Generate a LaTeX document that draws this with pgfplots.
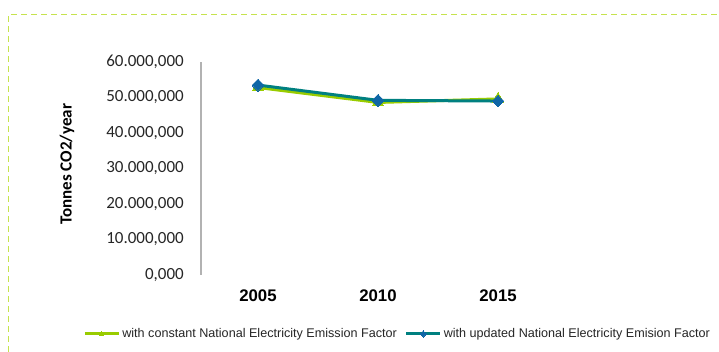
\documentclass[border=0pt]{standalone}
\usepackage{pgfplots}
\pgfplotsset{compat=1.18}
\usepackage{fontspec}
\setmainfont{Liberation Sans}
\newfontfamily\carlito{Carlito}
\definecolor{cgreen}{HTML}{99CC00}
\definecolor{cteal}{HTML}{008080}
\definecolor{cblue}{HTML}{0F66A6}
\definecolor{cborder}{HTML}{C6E34E}
\begin{document}
\begin{tikzpicture}[x=1pt,y=1pt]
\useasboundingbox (0,0) rectangle (719,352);
\draw[cborder, line width=1pt, dash pattern=on 6pt off 4pt] (8,0) -- (8,337) -- (719,337);
\begin{axis}[
  at={(201pt,77pt)}, anchor=south west,
  scale only axis, width=354pt, height=213pt,
  xmin=-0.475, xmax=2.475, ymin=0, ymax=60000000,
  scaled y ticks=false,
  axis x line*=bottom, axis y line*=left,
  x axis line style={draw=none},
  y axis line style={draw=black!30, line width=1.3pt, -},
  major tick length=0pt,
  xtick={0,1,2}, xticklabels={2005,2010,2015},
  xticklabel style={font=\fontsize{16.8}{17}\selectfont\bfseries, anchor=center, inner sep=0pt, yshift=-20.5pt},
  ytick={0,10000000,20000000,30000000,40000000,50000000,60000000},
  yticklabels={{0,000},{10.000,000},{20.000,000},{30.000,000},{40.000,000},{50.000,000},{60.000,000}},
  yticklabel style={font=\carlito\fontsize{17}{18}\selectfont, text=black!85, anchor=east, inner sep=0pt, xshift=-17pt},
  ylabel={Tonnes CO2/year},
  every axis y label/.style={at={(axis description cs:-0.3785,0.52)}, rotate=90, anchor=center, font=\carlito\bfseries\fontsize{17}{18}\selectfont},
  legend columns=2,
  legend style={at={(axis description cs:-0.333,-0.277)}, anchor=west, draw=none, inner sep=0pt,
    font=\fontsize{12.6}{14}\selectfont, text=black!85,
    nodes={inner sep=2pt},
    /tikz/every even column/.append style={column sep=6pt}},
  legend image code/.code={\draw[mark repeat=2,mark phase=2,#1, mark size=2.2pt] plot coordinates {(0pt,0pt) (17pt,0pt) (34pt,0pt)};},
]
\addplot[cgreen, line width=3pt, mark=triangle*, mark size=6.5pt, mark options={fill=cgreen, draw=cgreen, line width=0pt}]
  coordinates {(0,52800000) (1,48600000) (2,49600000)};
\addlegendentry{with constant National Electricity Emission Factor}
\addplot[cteal, line width=3pt, mark=square*, mark size=4.2pt, mark options={rotate=45, fill=cblue, draw=cblue, line width=0pt}]
  coordinates {(0,53500000) (1,49200000) (2,49000000)};
\addlegendentry{with updated National Electricity Emision Factor}
\end{axis}
\end{tikzpicture}
\end{document}
